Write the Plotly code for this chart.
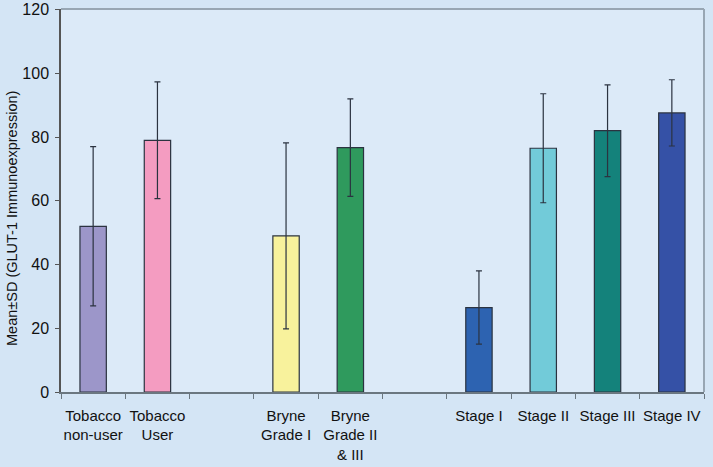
import plotly.graph_objects as go

CATEGORIES = [
    'Tobacco<br>non-user', 'Tobacco<br>User', ' ',
    'Bryne<br>Grade I', 'Bryne<br>Grade II<br>& III', '  ',
    'Stage I', 'Stage II', 'Stage III', 'Stage IV',
]
MEANS = [52, 79, None, 49, 76.7, None, 26.5, 76.5, 82, 87.6]
SDS = [25, 18.3, None, 29.2, 15.3, None, 11.5, 17.1, 14.4, 10.4]
COLORS = [
    '#9c96c9', '#f49cc1', 'rgba(0,0,0,0)', '#f8f29c', '#2f9a5d',
    'rgba(0,0,0,0)', '#2d63b1', '#72cbd9', '#14827b', '#3551a6',
]

FONT = 'Liberation Sans, Arial, sans-serif'

fig = go.Figure()
fig.add_trace(go.Bar(
    x=CATEGORIES,
    y=MEANS,
    width=0.41,
    marker=dict(color=COLORS, line=dict(color='#2b3340', width=1.2)),
    error_y=dict(type='data', array=SDS, visible=True,
                 color='#2b3340', thickness=1.2, width=3),
    showlegend=False,
))

fig.update_layout(
    width=713, height=467,
    margin=dict(l=61, r=9, t=9, b=75),
    paper_bgcolor='#d4e5f5',
    plot_bgcolor='#dceaf8',
    font=dict(family=FONT, size=15, color='#111111'),
    xaxis=dict(
        type='category',
        categoryorder='array', categoryarray=CATEGORIES,
        tickson='boundaries', ticks='outside', ticklen=5,
        tickcolor='#6b7780', showline=True, linecolor='#6b7780',
        linewidth=1.5, showgrid=False, tickangle=0,
        ticklabelstandoff=9,
        range=[-0.5, 9.5], automargin=False,
    ),
    yaxis=dict(
        range=[0, 120.2], tickvals=[0, 20, 40, 60, 80, 100, 120],
        ticks='outside', ticklen=4,
        tickcolor='#555', showline=True, linecolor='#555',
        linewidth=1.5, showgrid=False, zeroline=False, automargin=False,
        tickfont=dict(size=16), ticklabelstandoff=3,
    ),
    annotations=[dict(
        text='Mean±SD (GLUT-1 Immunoexpression)', textangle=-90,
        xref='paper', yref='paper', x=(12 - 61) / 643, y=(392 - 219) / 383,
        xanchor='center', yanchor='middle', showarrow=False,
        font=dict(size=14.5),
    )],
    shapes=[
        dict(type='line', xref='paper', yref='paper', x0=0, x1=1, y0=1, y1=1,
             line=dict(color='#98a6b3', width=2)),
        dict(type='line', xref='paper', yref='paper', x0=1, x1=1, y0=0, y1=1,
             line=dict(color='#98a6b3', width=2)),
    ],
)

# page body has a default 8px margin; drop it so the figure fills the window
fig.write_html(
    'out.html',
    config={'displayModeBar': False},
    post_script="document.body.style.margin='0';"
                "document.body.style.background='#d4e5f5';",
)
